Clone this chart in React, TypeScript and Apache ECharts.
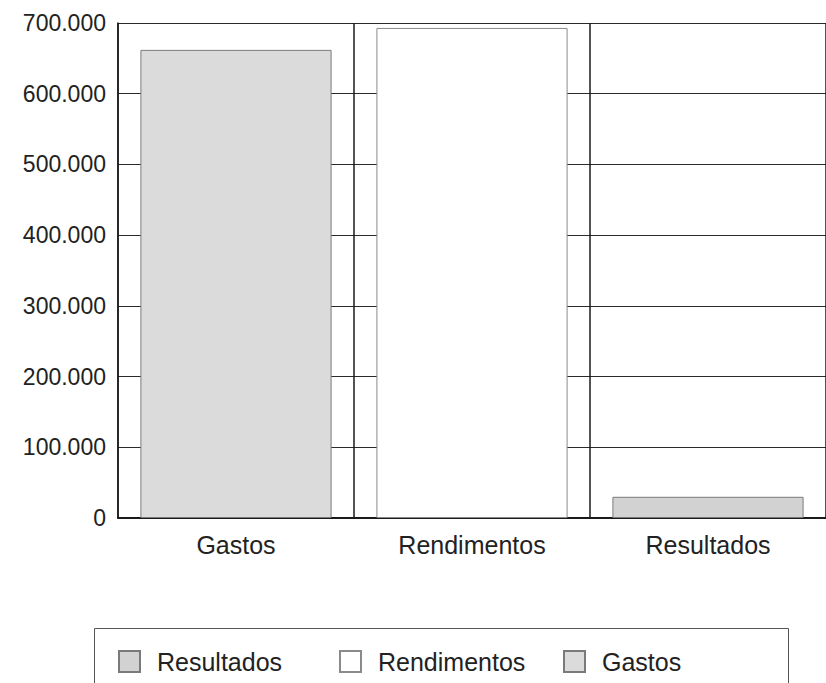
import React, { useEffect, useRef } from "react";
import * as echarts from "echarts";

const categories = ["Gastos", "Rendimentos", "Resultados"];
const gastosValues = [662000, "-", "-"];
const rendimentosValues = ["-", 693000, "-"];
const resultadosValues = ["-", "-", 30000];
const legendOrder = ["Resultados", "Rendimentos", "Gastos"];
const legendLefts = [118, 339, 563];

const FONT = "Liberation Sans";

export default function App() {
  const ref = useRef<HTMLDivElement>(null);
  useEffect(() => {
    if (!ref.current) return;
    const chart = echarts.init(ref.current, null, { renderer: "svg" });
    const seriesStyle: Record<string, any> = {
      Gastos: { color: "#dbdbdb", borderColor: "#7a7a7a", borderWidth: 1 },
      Rendimentos: { color: "#ffffff", borderColor: "#8a8a8a", borderWidth: 1 },
      Resultados: { color: "#d2d2d2", borderColor: "#7a7a7a", borderWidth: 1 },
    };
    const dataMap: Record<string, any[]> = {
      Gastos: gastosValues,
      Rendimentos: rendimentosValues,
      Resultados: resultadosValues,
    };
    chart.setOption({
      animation: false,
      backgroundColor: "#ffffff",
      grid: { left: 118, top: 23, width: 720, height: 495, containLabel: false },
      xAxis: {
        type: "category",
        data: categories,
        axisLine: { show: true, lineStyle: { color: "#1a1a1a", width: 2 } },
        axisTick: { show: false },
        splitLine: { show: true, interval: 0, lineStyle: { color: "#1a1a1a", width: 1.5 } },
        axisLabel: { fontFamily: FONT, fontSize: 25, color: "#222", margin: 14, interval: 0 },
      },
      yAxis: {
        type: "value",
        min: 0,
        max: 700000,
        interval: 100000,
        axisLine: { show: true, lineStyle: { color: "#1a1a1a", width: 1.5 } },
        axisTick: { show: false },
        splitLine: { show: true, lineStyle: { color: "#2a2a2a", width: 1 } },
        axisLabel: {
          fontFamily: FONT,
          fontSize: 23,
          color: "#222",
          margin: 12,
          formatter: (v: number) => (v === 0 ? "0" : v / 1000 + ".000"),
        },
      },
      legend: legendOrder.map((name, i) => ({
        data: [name],
        left: legendLefts[i],
        top: 649,
        orient: "horizontal",
        padding: 0,
        itemWidth: 21,
        itemHeight: 21,
        icon: "rect",
        selectedMode: false,
        textStyle: { fontFamily: FONT, fontSize: 25, color: "#222", padding: [0, 0, 0, 12] },
      })),
      graphic: [
        {
          type: "rect",
          shape: { x: 94.5, y: 628.5, width: 694, height: 80 },
          style: { fill: "none", stroke: "#555", lineWidth: 1 },
          silent: true,
        },
      ],
      series: ["Gastos", "Rendimentos", "Resultados"].map((name) => ({
        name,
        type: "bar",
        stack: "total",
        barWidth: "81%",
        data: dataMap[name],
        itemStyle: seriesStyle[name],
      })),
    });
    return () => chart.dispose();
  }, []);
  return (
    <div
      ref={ref}
      style={{ position: "absolute", left: 0, top: 0, width: 826, height: 683 }}
    />
  );
}
